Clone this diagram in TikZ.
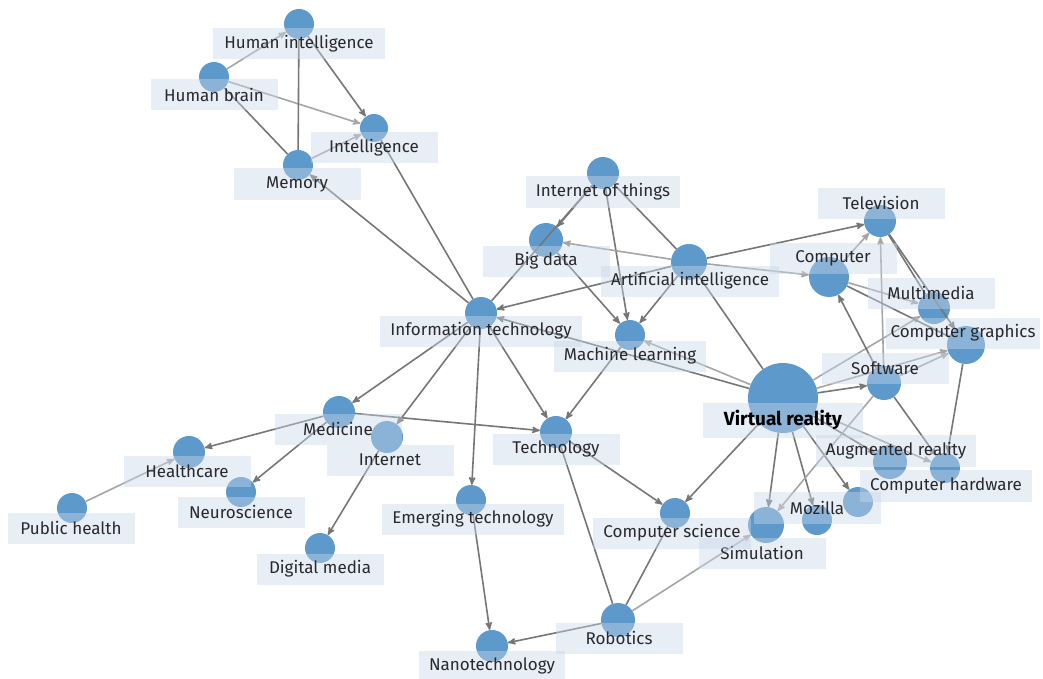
\documentclass[tikz,border=0pt]{standalone}
\usepackage{fontspec}
\setmainfont{Fira Sans}
\definecolor{vblue}{RGB}{93,153,203}
\definecolor{boxblue}{RGB}{201,215,233}
\definecolor{lblgray}{RGB}{40,40,45}
\definecolor{darkgray}{RGB}{118,118,118}
\definecolor{lightgray}{RGB}{165,165,165}
\usetikzlibrary{arrows}
\usetikzlibrary{positioning}

\begin{document}
\begin{tikzpicture}[x=1pt, y=-1pt,
        vert/.style={circle, fill=vblue, inner sep=0pt, minimum size=30pt},
        lbl/.style={rectangle, fill=boxblue, fill opacity=0.43, text opacity=1, text=lblgray, minimum width=127pt, minimum height=31pt, inner xsep=10pt, font=\fontsize{17}{19}\selectfont},
        dlink/.style={draw=darkgray, line width=1.6pt, -stealth'},
        llink/.style={draw=lightgray, line width=1.6pt, -stealth'},
        dline/.style={draw=darkgray, line width=1.6pt}]
        \useasboundingbox (0,0) rectangle (1043,679);

        % Topic circles
        \node[vert] (hi) at (299,24) {};
        \node[vert] (hb) at (214,77) {};
        \node[vert, minimum size=28pt] (intel) at (374,128) {};
        \node[vert] (mem) at (298,165) {};
        \node[vert, minimum size=32pt] (iot) at (603,173) {};
        \node[vert, minimum size=34pt] (bd) at (546,240) {};
        \node[vert, minimum size=36pt] (ai) at (689,262) {};
        \node[vert, minimum size=32pt] (it) at (481,313) {};
        \node[vert] (ml) at (630,335) {};
        \node[vert, minimum size=32pt] (tv) at (880,221) {};
        \node[vert, minimum size=40pt] (comp) at (829,277) {};
        \node[vert, minimum size=32pt] (mm) at (934,308) {};
        \node[vert, minimum size=38pt] (cg) at (966,345) {};
        \node[vert, minimum size=34pt] (sw) at (884,383) {};
        \node[vert, minimum size=70pt] (vr) at (783,398) {};
        \node[vert, minimum size=34pt] (ar) at (890,462) {};
        \node[vert] (ch) at (945,468) {};
        \node[vert] (ex) at (858,502) {};
        \node[vert] (moz) at (817,520) {};
        \node[vert, minimum size=36pt] (sim) at (766,525) {};
        \node[vert] (cs) at (675,513) {};
        \node[vert, minimum size=32pt] (tech) at (556,432) {};
        \node[vert, minimum size=32pt] (med) at (339,412) {};
        \node[vert, minimum size=32pt] (inet) at (387,437) {};
        \node[vert, minimum size=32pt] (hc) at (189,452) {};
        \node[vert] (neuro) at (241,492) {};
        \node[vert] (ph) at (72,508) {};
        \node[vert] (dm) at (320,548) {};
        \node[vert] (et) at (471,500) {};
        \node[vert, minimum size=34pt] (rob) at (618,620) {};
        \node[vert, minimum size=32pt] (nano) at (492,646) {};

        % Links
        \draw[llink] (hb) -- (hi);
        \draw[llink] (hb) -- (intel);
        \draw[dline] (hb) -- (mem);
        \draw[dline] (mem) -- (hi);
        \draw[dlink] (hi) -- (intel);
        \draw[llink] (mem) -- (intel);
        \draw[dlink] (it) -- (mem);
        \draw[dline] (intel) -- (it);
        \draw[dlink] (iot) -- (bd);
        \draw[dline] (iot) -- (it);
        \draw[dlink] (iot) -- (ml);
        \draw[dline] (iot) -- (ai);
        \draw[llink] (ai) -- (bd);
        \draw[dlink] (ai) -- (it);
        \draw[dlink] (ai) -- (ml);
        \draw[dlink] (bd) -- (ml);
        \draw[dlink] (ai) -- (tv);
        \draw[llink] (ai) -- (comp);
        \draw[dline] (ai) -- (vr);
        \draw[dlink] (ml) -- (tech);
        \draw[llink] (vr) -- (ml);
        \draw[dlink] (vr) -- (it);
        \draw[dlink] (it) -- (med);
        \draw[dlink] (it) -- (inet);
        \draw[dlink] (it) -- (et);
        \draw[dlink] (it) -- (tech);
        \draw[dlink] (med) -- (tech);
        \draw[dlink] (med) -- (hc);
        \draw[dlink] (med) -- (neuro);
        \draw[llink] (ph) -- (hc);
        \draw[dlink] (inet) -- (dm);
        \draw[dlink] (et) -- (nano);
        \draw[dlink] (tech) -- (cs);
        \draw[dline] (rob) -- (tech);
        \draw[dlink] (rob) -- (nano);
        \draw[dline] (rob) -- (cs);
        \draw[llink] (rob) -- (sim);
        \draw[dlink] (vr) -- (cs);
        \draw[dlink] (vr) -- (sim);
        \draw[dlink] (vr) -- (moz);
        \draw[dlink] (vr) -- (ex);
        \draw[dlink] (vr) -- (ar);
        \draw[llink] (vr) -- (ch);
        \draw[dlink] (vr) -- (sw);
        \draw[llink] (vr) -- (cg);
        \draw[llink] (vr) -- (mm);
        \draw[dlink] (sw) -- (comp);
        \draw[llink] (sw) -- (tv);
        \draw[llink] (sw) -- (cg);
        \draw[dlink] (sw) -- (ch);
        \draw[dlink] (cg) -- (ch);
        \draw[llink] (sw) -- (sim);
        \draw[llink] (comp) -- (tv);
        \draw[llink] (comp) -- (mm);
        \draw[dline] (comp) -- (cg);
        \draw[dlink] (tv) -- (cg);
        \draw[dline] (mm) -- (tv);

        % Labels
        \node[lbl, minimum width=172pt] (l-hi) at (299,44) {Human intelligence};
        \node[lbl] (l-hb) at (214,95) {Human brain};
        \node[lbl] (l-intel) at (374,148) {Intelligence};
        \node[lbl] (l-mem) at (297,184) {Memory};
        \node[lbl] (l-iot) at (603,192) {Internet of things};
        \node[lbl] (l-bd) at (546,261) {Big data};
        \node[lbl] (l-ai) at (690,281) {Artificial intelligence};
        \node[lbl] (l-it) at (481,331) {Information technology};
        \node[lbl] (l-ml) at (630,356) {Machine learning};
        \node[lbl] (l-tv) at (881,203) {Television};
        \node[lbl] (l-comp) at (833,258) {Computer};
        \node[lbl] (l-mm) at (931,293) {Multimedia};
        \node[lbl, inner xsep=5pt] (l-cg) at (963,333) {Computer graphics};
        \node[lbl] (l-sw) at (885,368) {Software};
        \node[lbl, minimum width=160pt, minimum height=35pt, text=black, font=\fontsize{19}{21}\selectfont\bfseries] (l-vr) at (783,420) {Virtual reality};
        \node[lbl, minimum height=32pt] (l-ar) at (896,451) {Augmented reality};
        \node[lbl, minimum height=32pt] (l-ch) at (946,486) {Computer hardware};
        \node[lbl, minimum height=32pt] (l-moz) at (817,508) {Mozilla};
        \node[lbl] (l-sim) at (762,553) {Simulation};
        \node[lbl] (l-cs) at (672,533) {Computer science};
        \node[lbl] (l-tech) at (556,449) {Technology};
        \node[lbl] (l-med) at (338,429) {Medicine};
        \node[lbl] (l-inet) at (390,460) {Internet};
        \node[lbl] (l-hc) at (187,471) {Healthcare};
        \node[lbl] (l-neuro) at (241,512) {Neuroscience};
        \node[lbl] (l-ph) at (71,528) {Public health};
        \node[lbl] (l-dm) at (320,569) {Digital media};
        \node[lbl] (l-et) at (473,519) {Emerging technology};
        \node[lbl] (l-rob) at (619,638) {Robotics};
        \node[lbl] (l-nano) at (492,666) {Nanotechnology};

    \end{tikzpicture}
\end{document}
